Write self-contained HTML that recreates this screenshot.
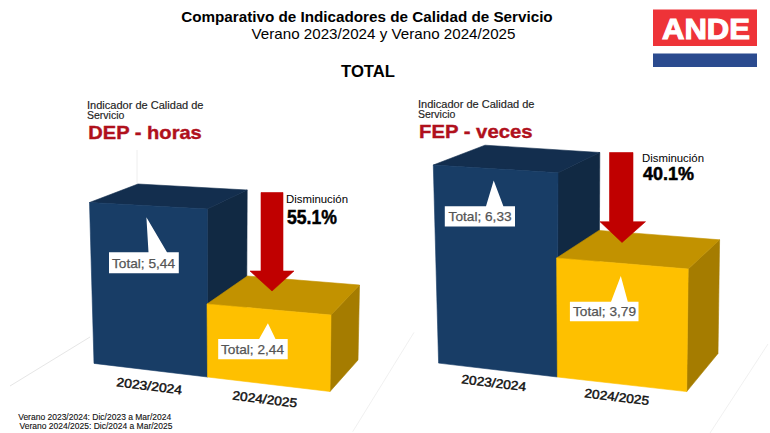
<!DOCTYPE html>
<html><head><meta charset="utf-8">
<style>
html,body{margin:0;padding:0;background:#fff;}
body{width:770px;height:433px;overflow:hidden;position:relative;}
svg{position:absolute;left:0;top:0;}
text{font-family:"Liberation Sans",sans-serif;}
</style></head>
<body>
<svg width="770" height="433" viewBox="0 0 770 433">
<rect x="0" y="0" width="770" height="433" fill="#fff"/>
<!-- faint floor lines -->
<line x1="10" y1="386" x2="90" y2="337" stroke="#e6e6e6" stroke-width="1"/>
<line x1="137" y1="150" x2="137" y2="184" stroke="#eeeeee" stroke-width="1"/>
<line x1="710" y1="433" x2="768" y2="344" stroke="#ececec" stroke-width="0.8"/>
<line x1="352.7" y1="431.7" x2="414" y2="332.4" stroke="#ececec" stroke-width="0.8"/>

<!-- Titles -->
<text x="181.2" y="22" font-size="15" font-weight="bold" fill="#000" textLength="371.5" lengthAdjust="spacingAndGlyphs">Comparativo de Indicadores de Calidad de Servicio</text>
<text x="251.5" y="39" font-size="15" fill="#000" textLength="264" lengthAdjust="spacingAndGlyphs">Verano 2023/2024 y Verano 2024/2025</text>
<text x="341" y="77" font-size="16.5" font-weight="bold" fill="#000" textLength="54" lengthAdjust="spacingAndGlyphs">TOTAL</text>

<!-- ANDE logo -->
<rect x="653" y="9.5" width="104" height="36.5" fill="#EE3338"/>
<text x="662" y="38.8" font-size="29.5" font-weight="bold" fill="#fff" stroke="#fff" stroke-width="1.1" textLength="88" lengthAdjust="spacingAndGlyphs">ANDE</text>
<rect x="653" y="53.5" width="104" height="13.5" fill="#2B4B8F"/>

<!-- Left indicator -->
<text x="87" y="108.7" font-size="10.5" fill="#222" stroke="#222" stroke-width="0.15" textLength="116.5" lengthAdjust="spacingAndGlyphs">Indicador de Calidad de</text>
<text x="87" y="119" font-size="10.5" fill="#222" stroke="#222" stroke-width="0.15">Servicio</text>
<text x="88.3" y="138.6" font-size="19" font-weight="bold" fill="#B0101C" stroke="#B0101C" stroke-width="0.4" textLength="113.5" lengthAdjust="spacingAndGlyphs">DEP - horas</text>

<!-- Right indicator -->
<text x="418" y="107.7" font-size="10.5" fill="#222" stroke="#222" stroke-width="0.15" textLength="116.5" lengthAdjust="spacingAndGlyphs">Indicador de Calidad de</text>
<text x="418" y="118.4" font-size="10.5" fill="#222" stroke="#222" stroke-width="0.15">Servicio</text>
<text x="419" y="138.2" font-size="19" font-weight="bold" fill="#B0101C" stroke="#B0101C" stroke-width="0.4" textLength="113.5" lengthAdjust="spacingAndGlyphs">FEP - veces</text>

<!-- LEFT CHART -->
<!-- blue box -->
<polygon points="207.3,209 247.2,190 246.5,340 207.5,377" fill="#112943" stroke="#112943" stroke-width="0.6" stroke-linejoin="round"/>
<polygon points="89.5,202.5 138,184 247.2,190 207.3,209" fill="#132E4E" stroke="#132E4E" stroke-width="0.6" stroke-linejoin="round"/>
<polygon points="89.5,202.5 207.3,209 207.5,377 94,363.4" fill="#183D66" stroke="#183D66" stroke-width="0.6" stroke-linejoin="round"/>
<!-- yellow box -->
<polygon points="331,315 359.5,285 358,360 330,391.5" fill="#A57C00" stroke="#A57C00" stroke-width="0.6" stroke-linejoin="round"/>
<polygon points="207,304 247.4,276 359.5,285 331,315" fill="#C29200" stroke="#C29200" stroke-width="0.6" stroke-linejoin="round"/>
<polygon points="207,304 331,315 330,391.5 207.5,377" fill="#FEC000" stroke="#FEC000" stroke-width="0.6" stroke-linejoin="round"/>
<!-- arrow -->
<polygon points="261,192.5 283,192.5 283,271 294,271 272,291 250,271 261,271" fill="#C00000" stroke="#C00000" stroke-width="0.6" stroke-linejoin="round"/>
<text x="286" y="203" font-size="11" fill="#000" textLength="62" lengthAdjust="spacingAndGlyphs">Disminución</text>
<text x="287" y="224" font-size="20" font-weight="bold" fill="#000" stroke="#000" stroke-width="0.5" textLength="50" lengthAdjust="spacingAndGlyphs">55.1%</text>
<!-- callouts -->
<polygon points="109,252.3 148.5,252.3 146.4,217.3 167,252.3 178.8,252.3 178.8,273.3 109,273.3" fill="#fff"/>
<text x="112" y="267.8" font-size="13" fill="#555" stroke="#555" stroke-width="0.25" textLength="63" lengthAdjust="spacingAndGlyphs">Total; 5,44</text>
<polygon points="218.2,339 259.1,339 267.9,323.2 275.5,339 287.7,339 287.7,359.2 218.2,359.2" fill="#fff"/>
<text x="221" y="354.2" font-size="13" fill="#555" stroke="#555" stroke-width="0.25" textLength="63" lengthAdjust="spacingAndGlyphs">Total; 2,44</text>
<!-- labels -->
<text x="116.0" y="386.3" font-size="12.6" fill="#111" stroke="#111" stroke-width="0.45" transform="rotate(7 116.0 386.3)" textLength="66" lengthAdjust="spacingAndGlyphs">2023/2024</text>
<text x="232.0" y="399.6" font-size="12.6" fill="#111" stroke="#111" stroke-width="0.45" transform="rotate(7 232.0 399.6)" textLength="65" lengthAdjust="spacingAndGlyphs">2024/2025</text>

<!-- RIGHT CHART -->
<polygon points="558,172.7 599.8,152.5 599,320 557.4,377" fill="#112943" stroke="#112943" stroke-width="0.6" stroke-linejoin="round"/>
<polygon points="433.3,165 485,145.2 599.8,152.5 558,172.7" fill="#132E4E" stroke="#132E4E" stroke-width="0.6" stroke-linejoin="round"/>
<polygon points="433.3,165 558,172.7 557.4,377 438.6,363.1" fill="#183D66" stroke="#183D66" stroke-width="0.6" stroke-linejoin="round"/>
<polygon points="688.2,269 719.6,239.8 718,353.5 686.7,391.6" fill="#A57C00" stroke="#A57C00" stroke-width="0.6" stroke-linejoin="round"/>
<polygon points="556.6,258 599,230.4 719.6,239.8 688.2,269" fill="#C29200" stroke="#C29200" stroke-width="0.6" stroke-linejoin="round"/>
<polygon points="556.6,258 688.2,269 686.7,391.6 557.4,377" fill="#FEC000" stroke="#FEC000" stroke-width="0.6" stroke-linejoin="round"/>
<polygon points="609.5,152.5 633,152.5 633,221.7 645.5,221.7 622,242.5 600,221.7 609.5,221.7" fill="#C00000" stroke="#C00000" stroke-width="0.6" stroke-linejoin="round"/>
<text x="642" y="162" font-size="11" fill="#000" textLength="62" lengthAdjust="spacingAndGlyphs">Disminución</text>
<text x="643" y="180" font-size="19" font-weight="bold" fill="#000" stroke="#000" stroke-width="0.5" textLength="51" lengthAdjust="spacingAndGlyphs">40.1%</text>
<polygon points="444.8,206.2 486,206.2 493.7,180.5 503.4,206.2 515,206.2 515,226.5 444.8,226.5" fill="#fff"/>
<text x="448.6" y="221" font-size="13" fill="#555" stroke="#555" stroke-width="0.25" textLength="63" lengthAdjust="spacingAndGlyphs">Total; 6,33</text>
<polygon points="569.9,301.7 611,301.7 620.8,276 627.8,301.7 638.5,301.7 638.5,321.3 569.9,321.3" fill="#fff"/>
<text x="573" y="316" font-size="13" fill="#555" stroke="#555" stroke-width="0.25" textLength="63" lengthAdjust="spacingAndGlyphs">Total; 3,79</text>
<text x="461.0" y="383.3" font-size="12.6" fill="#111" stroke="#111" stroke-width="0.45" transform="rotate(7 461.0 383.3)" textLength="65" lengthAdjust="spacingAndGlyphs">2023/2024</text>
<text x="584.0" y="397.3" font-size="12.6" fill="#111" stroke="#111" stroke-width="0.45" transform="rotate(7 584.0 397.3)" textLength="65" lengthAdjust="spacingAndGlyphs">2024/2025</text>

<!-- footnote -->
<text x="18.2" y="420.3" font-size="8.5" fill="#111" stroke="#111" stroke-width="0.12" textLength="153" lengthAdjust="spacingAndGlyphs">Verano 2023/2024: Dic/2023 a Mar/2024</text>
<text x="19.5" y="429.4" font-size="8.5" fill="#111" stroke="#111" stroke-width="0.12" textLength="153" lengthAdjust="spacingAndGlyphs">Verano 2024/2025: Dic/2024 a Mar/2025</text>
</svg>
</body></html>
